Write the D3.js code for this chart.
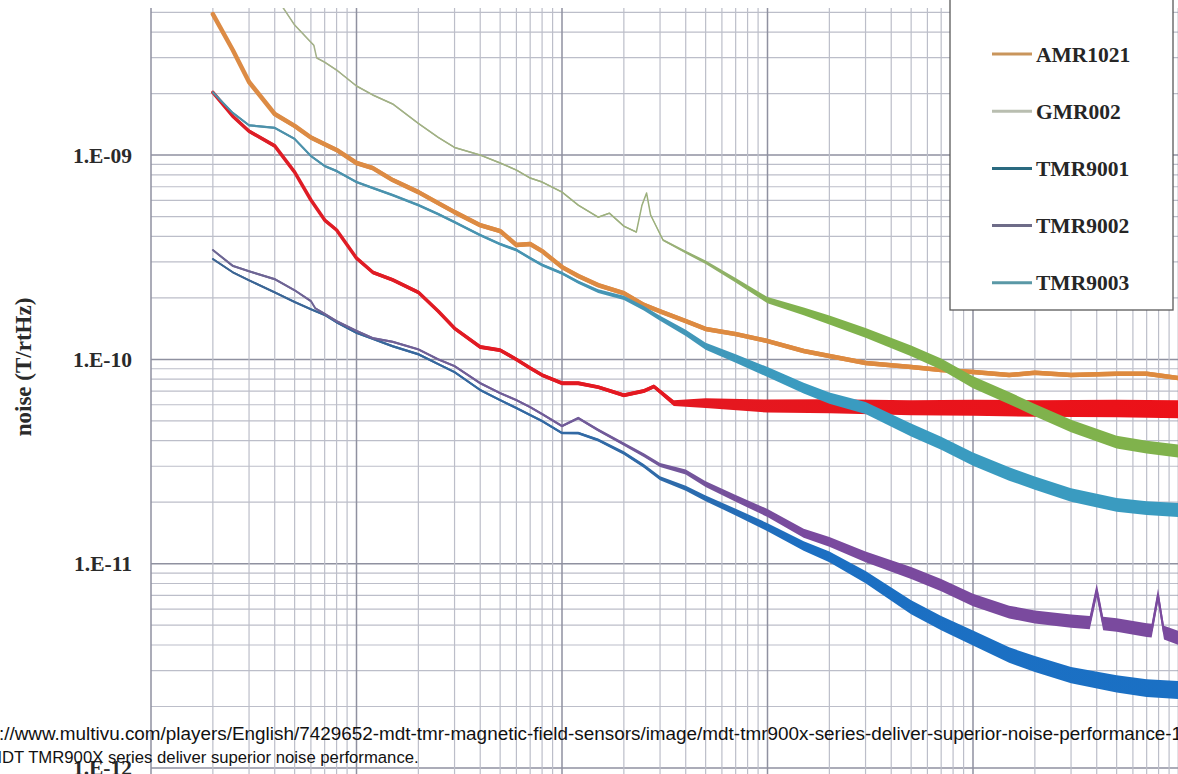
<!DOCTYPE html>
<html>
<head>
<meta charset="utf-8">
<script src="https://cdn.jsdelivr.net/npm/d3@7"></script>
<style>
body { margin: 0; background: #fff; }
svg { display: block; }
</style>
</head>
<body>
<div id="chart"></div>
<script>
// noise spectra: frequency in Hz, noise in T/rtHz

const freqHz = [2, 2.5, 3, 4, 5, 6, 7, 8, 10, 12, 15, 20, 25, 30, 40, 50, 60, 70, 80,
	100, 120, 150, 200, 250, 300, 400, 500, 700, 1000, 1500, 2000, 3000, 5000, 7000,
	10000, 15000, 20000, 30000, 50000, 70000, 100000];

const amr1021 = [4.9e-9, 3.27e-9, 2.28e-9, 1.59e-9, 1.39e-9, 1.22e-9, 1.13e-9, 1.06e-9,
	9.15e-10, 8.64e-10, 7.55e-10, 6.59e-10, 5.82e-10, 5.26e-10, 4.54e-10, 4.25e-10, 3.63e-10, 3.67e-10, 3.39e-10,
	2.83e-10, 2.56e-10, 2.31e-10, 2.11e-10, 1.85e-10, 1.72e-10, 1.54e-10, 1.41e-10, 1.33e-10,
	1.23e-10, 1.10e-10, 1.04e-10, 9.6e-11, 9.17e-11, 8.87e-11,
	8.67e-11, 8.38e-11, 8.6e-11, 8.38e-11, 8.5e-11, 8.5e-11, 8.1e-11];

const tmr9003 = [2.03e-9, 1.61e-9, 1.40e-9, 1.36e-9, 1.20e-9, 9.9e-10, 8.84e-10, 8.36e-10,
	7.38e-10, 6.9e-10, 6.37e-10, 5.69e-10, 5.14e-10, 4.70e-10, 4.06e-10, 3.67e-10, 3.43e-10, 3.13e-10, 2.90e-10,
	2.64e-10, 2.39e-10, 2.16e-10, 2.0e-10, 1.78e-10, 1.59e-10, 1.35e-10, 1.16e-10, 1.01e-10,
	8.67e-11, 7.24e-11, 6.47e-11, 5.78e-11, 4.51e-11, 3.89e-11,
	3.25e-11, 2.75e-11, 2.48e-11, 2.17e-11, 1.94e-11, 1.87e-11, 1.83e-11];

const tmr9001 = [3.10e-10, 2.67e-10, 2.44e-10, 2.13e-10, 1.91e-10, 1.76e-10, 1.65e-10, 1.52e-10,
	1.35e-10, 1.26e-10, 1.16e-10, 1.06e-10, 9.48e-11, 8.67e-11, 7.08e-11, 6.32e-11, 5.78e-11, 5.34e-11, 4.99e-11,
	4.36e-11, 4.36e-11, 4.03e-11, 3.48e-11, 3.01e-11, 2.62e-11, 2.34e-11, 2.09e-11, 1.79e-11,
	1.51e-11, 1.22e-11, 1.08e-11, 8.6e-12, 6.13e-12, 5.12e-12,
	4.33e-12, 3.57e-12, 3.23e-12, 2.85e-12, 2.58e-12, 2.46e-12, 2.41e-12];

const tmr9002Hz = [2, 2.5, 3, 4, 5, 6, 6.3, 7, 8, 10, 12, 15, 20, 25, 30, 40, 50, 60, 70, 80,
	100, 120, 150, 200, 250, 300, 400, 500, 700, 1000, 1500, 2000, 3000, 5000, 7000,
	10000, 15000, 20000, 30000, 37000, 40000, 43000, 50000, 70000, 74000, 79500, 85000, 100000];
const tmr9002 = [3.43e-10, 2.87e-10, 2.70e-10, 2.47e-10, 2.18e-10, 1.93e-10, 1.78e-10, 1.67e-10, 1.54e-10,
	1.38e-10, 1.27e-10, 1.22e-10, 1.12e-10, 1.0e-10, 9.27e-11, 7.65e-11, 6.84e-11, 6.32e-11, 5.84e-11, 5.40e-11,
	4.72e-11, 5.16e-11, 4.51e-11, 3.85e-11, 3.40e-11, 3.04e-11, 2.81e-11, 2.45e-11, 2.09e-11,
	1.77e-11, 1.41e-11, 1.28e-11, 1.08e-11, 9.0e-12, 7.85e-12,
	6.64e-12, 5.8e-12, 5.48e-12, 5.24e-12, 5.15e-12, 7.4e-12, 5.1e-12, 5.01e-12, 4.73e-12, 4.7e-12, 7.0e-12, 4.6e-12, 4.33e-12];

const gmr002Hz = [4, 5, 6, 6.2, 6.4, 7, 8, 10, 12, 15, 20, 25, 30, 40, 50, 60, 70, 80,
	100, 120, 150, 170, 200, 230, 245, 258, 270, 310, 400, 500, 700, 1000, 1500, 2000, 3000, 5000, 7000,
	10000, 15000, 20000, 30000, 50000, 70000, 100000];
const gmr002 = [6.07e-9, 4.33e-9, 3.57e-9, 3.45e-9, 2.99e-9, 2.85e-9, 2.61e-9,
	2.18e-9, 1.97e-9, 1.78e-9, 1.43e-9, 1.22e-9, 1.09e-9, 1.0e-9, 9.15e-10, 8.45e-10, 7.72e-10, 7.38e-10,
	6.59e-10, 5.69e-10, 4.97e-10, 5.2e-10, 4.49e-10, 4.2e-10, 5.69e-10, 6.52e-10, 5.09e-10, 3.84e-10, 3.35e-10, 2.99e-10, 2.44e-10,
	1.95e-10, 1.72e-10, 1.56e-10, 1.35e-10, 1.10e-10, 9.48e-11,
	7.74e-11, 6.47e-11, 5.65e-11, 4.72e-11, 3.94e-11, 3.72e-11, 3.56e-11];

// red trace, not named in the visible part of the legend
const redHz = [2, 2.5, 3, 4, 5, 6, 7, 8, 10, 12, 15, 20, 25, 30, 40, 50, 60, 70, 80,
	100, 120, 150, 200, 250, 280, 350, 500, 1000, 2000, 5000, 10000, 20000, 50000, 100000];
const redTrace = [2.03e-9, 1.55e-9, 1.31e-9, 1.11e-9, 8.26e-10, 6.03e-10, 4.81e-10, 4.30e-10,
	3.13e-10, 2.67e-10, 2.45e-10, 2.13e-10, 1.72e-10, 1.42e-10, 1.15e-10, 1.11e-10, 1.0e-10, 9.07e-11, 8.38e-11,
	7.65e-11, 7.65e-11, 7.32e-11, 6.68e-11, 7.0e-11, 7.37e-11, 6.11e-11, 6.11e-11,
	5.91e-11, 5.9e-11, 5.8e-11, 5.8e-11, 5.75e-11, 5.75e-11, 5.7e-11];

const legendNames = ["AMR1021", "GMR002", "TMR9001", "TMR9002", "TMR9003"];
const yTickValues = [1e-9, 1e-10, 1e-11, 1e-12];
const yTickLabels = ["1.E-09", "1.E-10", "1.E-11", "1.E-12"];
const yTitle = "noise (T/rtHz)";
const caption = [
	"https://www.multivu.com/players/English/7429652-mdt-tmr-magnetic-field-sensors/image/mdt-tmr900x-series-deliver-superior-noise-performance-1",
	"MDT TMR900X series deliver superior noise performance."
];

// drawing order: first one ends up at the bottom
// base = thin line width, widths = band width stops [Hz, px] where the trace turns noisy
const series = [
	{f: redHz, v: redTrace, base: 3.5, widths: [[1, 3.5], [300, 4], [450, 9], [1000, 13], [10000, 16], [1e5, 18]],
		colors: [[1, "#dc1f28"], [1e5, "#ec1118"]]},
	{f: freqHz, v: amr1021, base: 4.5, widths: [[1, 4.5], [1e5, 4.5]],
		colors: [[1, "#dc8b45"], [1e5, "#de8a3e"]]},
	{f: gmr002Hz, v: gmr002, base: 1.5, widths: [[1, 1.5], [250, 1.5], [600, 4], [2000, 9], [10000, 12], [1e5, 13]],
		colors: [[1, "#a7b18f"], [300, "#9cb07c"], [1500, "#7fb24c"], [1e5, "#80b24c"]]},
	{f: freqHz, v: tmr9001, base: 2, widths: [[1, 2], [100, 2.5], [300, 4], [1000, 8], [5000, 14], [1e5, 18]],
		colors: [[1, "#3e6490"], [300, "#2f6aa8"], [1500, "#1c6fc2"], [1e5, "#1a70c4"]]},
	{f: tmr9002Hz, v: tmr9002, base: 2, widths: [[1, 2], [100, 2.5], [300, 4], [1000, 8], [5000, 12], [1e5, 14]],
		colors: [[1, "#6c6892"], [300, "#72589a"], [1500, "#7a4a9e"], [1e5, "#7a4a9e"]]},
	{f: freqHz, v: tmr9003, base: 2, widths: [[1, 2], [100, 3], [300, 5], [1000, 10], [5000, 13], [1e5, 14]],
		colors: [[1, "#4f8fa6"], [300, "#4496b6"], [1500, "#3a9bc0"], [1e5, "#3a9bc0"]]}
];
const legendColors = ["#c9955c", "#b9beb0", "#2a6a80", "#6e6c88", "#5a98a6"];

const canvas_width = 1178;
const canvas_height = 774;
const plot = {left: 151, top: 8, right: 1178, bottom: 774};
const serif = "'Liberation Serif', 'DejaVu Serif', serif";

const svg = d3.select("#chart")
	.append("svg")
		.attr("width", canvas_width)
		.attr("height", canvas_height);
const defs = svg.append("defs");

const x = d3.scaleLog()
	.domain([1, 1e5])
	.range([151, 1178.5]);
const y = d3.scaleLog()
	.domain([1e-12, 5.25e-9])
	.range([768, 8]);

const isDecade = d => Math.abs(Math.log10(d) - Math.round(Math.log10(d))) < 1e-6;

// grid
const grid = svg.append("g");
grid.selectAll("line.h")
	.data(y.ticks())
	.join("line")
		.attr("x1", plot.left).attr("x2", plot.right)
		.attr("y1", d => y(d)).attr("y2", d => y(d))
		.attr("stroke", d => isDecade(d) ? "#8f91a0" : "#bcbec9")
		.attr("stroke-width", d => isDecade(d) ? 1.5 : 1.2);
grid.selectAll("line.v")
	.data(x.ticks())
	.join("line")
		.attr("x1", d => x(d)).attr("x2", d => x(d))
		.attr("y1", plot.top).attr("y2", plot.bottom)
		.attr("stroke", d => isDecade(d) ? "#8f91a0" : "#bcbec9")
		.attr("stroke-width", d => isDecade(d) ? 1.5 : 1.2);

// traces
defs.append("clipPath").attr("id", "plotclip")
	.append("rect")
		.attr("x", plot.left).attr("y", plot.top)
		.attr("width", plot.right - plot.left).attr("height", plot.bottom - plot.top);

const traces = svg.append("g").attr("clip-path", "url(#plotclip)");

series.forEach((s, si) => {
	const w = d3.scaleLinear()
		.domain(s.widths.map(p => Math.log10(p[0])))
		.range(s.widths.map(p => p[1]))
		.clamp(true);

	// colour changes along x, so use a gradient in user space
	const grad = defs.append("linearGradient")
		.attr("id", "grad" + si)
		.attr("gradientUnits", "userSpaceOnUse")
		.attr("x1", x(1)).attr("x2", x(1e5))
		.attr("y1", 0).attr("y2", 0);
	grad.selectAll("stop")
		.data(s.colors)
		.join("stop")
			.attr("offset", d => (x(d[0]) - x(1)) / (x(1e5) - x(1)))
			.attr("stop-color", d => d[1]);

	const pts = s.f.map((f, i) => ({f: f, v: s.v[i]}));
	const g = traces.append("g");

	// noisy band: centre line +- half the band width
	g.append("path")
		.datum(pts)
		.attr("fill", "url(#grad" + si + ")")
		.attr("d", d3.area()
			.x(d => x(d.f))
			.y0(d => y(d.v) - w(Math.log10(d.f)) / 2)
			.y1(d => y(d.v) + w(Math.log10(d.f)) / 2));

	g.append("path")
		.datum(pts)
		.attr("fill", "none")
		.attr("stroke", "url(#grad" + si + ")")
		.attr("stroke-width", s.base)
		.attr("stroke-linejoin", "round")
		.attr("stroke-linecap", "round")
		.attr("d", d3.line()
			.x(d => x(d.f))
			.y(d => y(d.v)));
});

// legend box (its top is cut off in the picture)
const legend = svg.append("g");
legend.append("rect")
	.attr("x", 950).attr("y", -5)
	.attr("width", 223).attr("height", 315)
	.attr("fill", "#fff")
	.attr("stroke", "#5a5a5a")
	.attr("stroke-width", 1.3);
const entries = legend.selectAll("g.entry")
	.data(legendNames)
	.join("g")
		.attr("transform", (d, i) => "translate(0," + (54 + i * 57.2) + ")");
entries.append("line")
	.attr("x1", 992).attr("x2", 1032)
	.attr("stroke", (d, i) => legendColors[i])
	.attr("stroke-width", 3);
entries.append("text")
	.attr("x", 1036)
	.attr("dy", "0.35em")
	.attr("font-family", serif)
	.attr("font-weight", "bold")
	.attr("font-size", 21.5)
	.attr("fill", "#262626")
	.text(d => d);

// y axis labels
const yAxis = svg.append("g")
	.attr("transform", "translate(151,0)")
	.call(d3.axisLeft(y)
		.tickValues(yTickValues)
		.tickFormat((d, i) => yTickLabels[i])
		.tickSize(0)
		.tickPadding(19));
yAxis.select(".domain").remove();
yAxis.selectAll("text")
	.attr("font-family", serif)
	.attr("font-weight", "bold")
	.attr("font-size", 21.5)
	.attr("fill", "#2a2a2a");

svg.append("text")
	.attr("transform", "translate(23,367) rotate(-90)")
	.attr("text-anchor", "middle")
	.attr("dy", "0.35em")
	.attr("font-family", serif)
	.attr("font-weight", "bold")
	.attr("font-size", 23)
	.attr("fill", "#2a2a2a")
	.text(yTitle);

// source caption pasted over the bottom of the picture
svg.selectAll("text.caption")
	.data(caption)
	.join("text")
		.attr("class", "caption")
		.attr("x", (d, i) => i == 0 ? -42 : -12)
		.attr("y", (d, i) => 740 + i * 23)
		.attr("font-family", "'Liberation Sans', Arial, sans-serif")
		.attr("font-size", (d, i) => i == 0 ? 18.9 : 16.7)
		.attr("fill", "#111")
		.text(d => d);
</script>
</body>
</html>
